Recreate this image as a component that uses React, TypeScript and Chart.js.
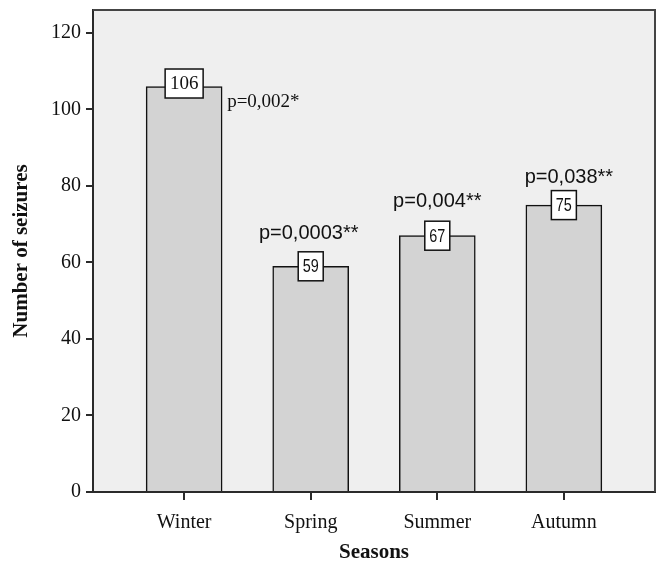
import React, { useEffect, useRef } from "react";
import { Chart, registerables } from "chart.js";

Chart.register(...registerables);

const categories = ["Winter", "Spring", "Summer", "Autumn"];
const seizures = [106, 59, 67, 75];
const pLabels = ["p=0,002*", "p=0,0003**", "p=0,004**", "p=0,038**"];
const yTicks = [0, 20, 40, 60, 80, 100, 120];

// styling of annotation labels (per bar): offsets relative to bar top/center
const pStyle = [
  { font: "19px 'Liberation Serif', serif", align: "left" as CanvasTextAlign, dx: 5, dy: 16, fromRight: true },
  { font: "20px 'Liberation Sans', Arial, sans-serif", align: "center" as CanvasTextAlign, dx: -2, dy: -33, fromRight: false },
  { font: "20px 'Liberation Sans', Arial, sans-serif", align: "center" as CanvasTextAlign, dx: 0, dy: -34, fromRight: false },
  { font: "20px 'Liberation Sans', Arial, sans-serif", align: "center" as CanvasTextAlign, dx: 5, dy: -28, fromRight: false },
];
const boxStyle = [
  { font: "19px 'Liberation Serif', serif", sx: 1, dy: -3 },
  { font: "18px 'Liberation Sans', Arial, sans-serif", sx: 0.8, dy: 0 },
  { font: "18px 'Liberation Sans', Arial, sans-serif", sx: 0.8, dy: 0 },
  { font: "18px 'Liberation Sans', Arial, sans-serif", sx: 0.8, dy: 0 },
];

const BG = "#efefef";
const BAR = "#d3d3d3";
const LINE = "#2a2a2a";

const plotDecor = {
  id: "plotDecor",
  beforeDraw(chart: any) {
    const { ctx, chartArea: a } = chart;
    ctx.save();
    ctx.fillStyle = BG;
    ctx.fillRect(a.left, a.top, a.right - a.left, a.bottom - a.top);
    ctx.restore();
  },
  afterDatasetsDraw(chart: any) {
    const { ctx, chartArea: a } = chart;
    ctx.save();
    ctx.strokeStyle = "#444";
    ctx.lineWidth = 2;
    ctx.beginPath();
    ctx.moveTo(a.left, a.top);
    ctx.lineTo(a.right, a.top);
    ctx.lineTo(a.right, a.bottom);
    ctx.stroke();
    ctx.restore();

    const meta = chart.getDatasetMeta(0);
    meta.data.forEach((bar: any, i: number) => {
      const x = bar.x;
      const y = bar.y;
      const half = bar.width / 2;
      // value box
      const bs = boxStyle[i];
      const txt = String(seizures[i]);
      ctx.save();
      ctx.font = bs.font;
      const tw = ctx.measureText(txt).width * bs.sx;
      const bw = Math.round(tw + 9);
      const bh = 29;
      const cy = y + bs.dy;
      ctx.fillStyle = "#ffffff";
      ctx.fillRect(x - bw / 2, cy - bh / 2, bw, bh);
      ctx.strokeStyle = "#111";
      ctx.lineWidth = 1.5;
      ctx.strokeRect(x - bw / 2, cy - bh / 2, bw, bh);
      ctx.fillStyle = "#111";
      ctx.textAlign = "center";
      ctx.textBaseline = "middle";
      ctx.translate(x, cy + 1);
      ctx.scale(bs.sx, 1);
      ctx.fillText(txt, 0, 0);
      ctx.restore();

      // p label
      const ps = pStyle[i];
      ctx.save();
      ctx.font = ps.font;
      ctx.fillStyle = "#111";
      ctx.textAlign = ps.align;
      ctx.textBaseline = "middle";
      const px = ps.fromRight ? x + half + ps.dx : x + ps.dx;
      ctx.fillText(pLabels[i], px, y + ps.dy);
      ctx.restore();
    });
  },
};

export default function App() {
  const ref = useRef<HTMLCanvasElement | null>(null);
  useEffect(() => {
    document.body.style.margin = "0";
    if (!ref.current) return;
    const chart = new Chart(ref.current, {
      type: "bar",
      data: {
        datasets: [
          {
            data: seizures.map((v, i) => ({ x: i, y: v })),
            backgroundColor: BAR,
            borderColor: "#111",
            borderWidth: 1.5,
            barThickness: 76,
          } as any,
        ],
      },
      options: {
        responsive: false,
        animation: false,
        layout: { padding: { top: 10, right: 4, left: 0, bottom: 0 } },
        plugins: { legend: { display: false }, tooltip: { enabled: false } },
        scales: {
          x: {
            type: "linear",
            min: -0.72,
            max: 3.72,
            offset: false,
            afterBuildTicks: (s: any) => {
              s.ticks = categories.map((_, i) => ({ value: i }));
            },
            afterFit: (s: any) => {
              s.height = 74;
              s.paddingLeft = 0;
              s.paddingRight = 0;
            },
            ticks: {
              callback: (v: any) => categories[Math.round(Number(v))] ?? "",
              font: { family: "'Liberation Serif', serif", size: 20 },
              color: "#111",
              padding: 11,
              maxRotation: 0,
              autoSkip: false,
            },
            grid: { offset: false, drawOnChartArea: false, drawTicks: true, tickLength: 8, color: LINE, lineWidth: 2 },
            border: { color: LINE, width: 2 },
            title: {
              display: true,
              text: "Seasons",
              font: { family: "'Liberation Serif', serif", size: 21, weight: "bold", lineHeight: 1.2 },
              color: "#111",
              padding: { top: 0, bottom: 1 },
            },
          } as any,
          y: {
            type: "linear",
            min: 0,
            max: 126,
            afterBuildTicks: (s: any) => {
              s.ticks = yTicks.map((v) => ({ value: v }));
            },
            afterFit: (s: any) => {
              s.width = 93;
              s.paddingTop = 0;
              s.paddingBottom = 0;
            },
            ticks: {
              font: { family: "'Liberation Serif', serif", size: 20 },
              color: "#111",
              padding: 5,
            },
            grid: { drawOnChartArea: false, drawTicks: true, tickLength: 7, color: LINE, lineWidth: 2 },
            border: { color: LINE, width: 2 },
            title: {
              display: true,
              text: "Number of seizures",
              font: { family: "'Liberation Serif', serif", size: 21, weight: "bold", lineHeight: 1.2 },
              color: "#111",
              padding: { top: 9, bottom: 0 },
            },
          },
        },
      },
      plugins: [plotDecor],
    });
    return () => chart.destroy();
  }, []);
  return (
    <div style={{ width: 659, height: 566, background: "#ffffff" }}>
      <canvas ref={ref} width={659} height={566} />
    </div>
  );
}
